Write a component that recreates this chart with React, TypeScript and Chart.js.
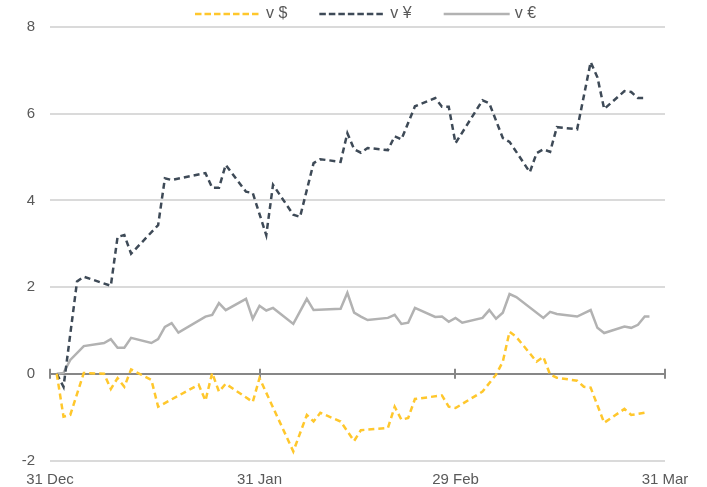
import React, { useEffect, useRef } from "react";
import { Chart, registerables } from "chart.js";

Chart.register(...registerables);

// Axis ticks (x in days since 31 Dec)
const xTickDays = [0, 31, 60, 91];
const xTickLabels = ["31 Dec", "31 Jan", "29 Feb", "31 Mar"];
const yTickValues = [-2, 0, 2, 4, 6, 8];
const seriesNames = ["v $", "v ¥", "v €"];

// v $
const usdDays = [1, 2, 3, 5, 8, 9, 10, 11, 12, 15, 16, 22, 23, 24, 25, 26, 30, 31, 36, 38, 39, 40, 43, 45, 46, 50, 51, 52, 53, 54, 58, 59, 60, 64, 66, 67, 68, 69, 72, 73, 74, 75, 78, 79, 80, 82, 85, 86, 88];
const usdValues = [0, -0.99, -0.95, 0.02, 0, -0.35, -0.1, -0.3, 0.1, -0.14, -0.76, -0.25, -0.62, 0.02, -0.41, -0.23, -0.65, -0.1, -1.79, -0.95, -1.1, -0.9, -1.1, -1.55, -1.3, -1.25, -0.76, -1.06, -1.02, -0.58, -0.5, -0.76, -0.79, -0.41, -0.02, 0.28, 0.97, 0.85, 0.28, 0.39, -0.02, -0.09, -0.16, -0.3, -0.32, -1.13, -0.81, -0.95, -0.9];

// v ¥
const jpyDays = [1, 2, 4, 5, 9, 10, 11, 12, 16, 17, 18, 23, 24, 25, 26, 29, 30, 32, 33, 35, 36, 37, 39, 40, 43, 44, 45, 46, 47, 50, 51, 52, 54, 57, 58, 59, 60, 64, 65, 67, 68, 69, 71, 72, 73, 74, 75, 78, 80, 81, 82, 85, 86, 87, 88];
const jpyValues = [0, -0.3, 2.13, 2.24, 2.03, 3.16, 3.2, 2.77, 3.43, 4.51, 4.47, 4.63, 4.29, 4.29, 4.82, 4.2, 4.17, 3.2, 4.36, 3.9, 3.67, 3.62, 4.86, 4.95, 4.89, 5.55, 5.18, 5.1, 5.21, 5.16, 5.48, 5.41, 6.17, 6.36, 6.16, 6.16, 5.32, 6.31, 6.24, 5.44, 5.35, 5.12, 4.65, 5.09, 5.18, 5.12, 5.69, 5.64, 7.19, 6.84, 6.11, 6.52, 6.5, 6.36, 6.36];

// v €
const eurDays = [1, 2, 3, 5, 8, 9, 10, 11, 12, 15, 16, 17, 18, 19, 23, 24, 25, 26, 29, 30, 31, 32, 33, 36, 38, 39, 43, 44, 45, 46, 47, 50, 51, 52, 53, 54, 57, 58, 59, 60, 61, 64, 65, 66, 67, 68, 69, 73, 74, 75, 78, 80, 81, 82, 85, 86, 87, 88, 88.7];
const eurValues = [0, 0.02, 0.32, 0.64, 0.71, 0.8, 0.6, 0.6, 0.83, 0.71, 0.8, 1.08, 1.17, 0.95, 1.32, 1.36, 1.63, 1.47, 1.73, 1.27, 1.57, 1.46, 1.52, 1.15, 1.73, 1.47, 1.5, 1.87, 1.41, 1.32, 1.24, 1.29, 1.36, 1.15, 1.18, 1.52, 1.31, 1.32, 1.2, 1.29, 1.18, 1.29, 1.47, 1.27, 1.41, 1.84, 1.77, 1.29, 1.43, 1.38, 1.32, 1.47, 1.06, 0.94, 1.09, 1.06, 1.13, 1.32, 1.32];

const FONT = '"Liberation Sans", Arial, sans-serif';
const TEXT_COLOR = "#595959";

function toPoints(days: number[], values: number[]) {
  return days.map((d, i) => ({ x: d, y: values[i] }));
}

export default function App() {
  const canvasRef = useRef<HTMLCanvasElement | null>(null);

  useEffect(() => {
    const canvas = canvasRef.current;
    if (!canvas) return;

    const zeroAxisPlugin = {
      id: "zeroAxisTicks",
      beforeDatasetsDraw(chart: any) {
        const { ctx, scales } = chart;
        const y0 = scales.y.getPixelForValue(0);
        ctx.save();
        ctx.strokeStyle = "#878787";
        ctx.lineWidth = 2;
        ctx.beginPath();
        xTickDays.forEach((d) => {
          const x = Math.round(scales.x.getPixelForValue(d));
          ctx.moveTo(x, y0 - 5);
          ctx.lineTo(x, y0 + 5);
        });
        ctx.stroke();
        ctx.restore();
      },
    };

    const legendPlugin = {
      id: "lineLegend",
      afterDraw(chart: any) {
        const { ctx } = chart;
        ctx.save();
        ctx.font = `16px ${FONT}`;
        ctx.textBaseline = "middle";
        ctx.textAlign = "left";
        let x = 195;
        const y = 14;
        chart.data.datasets.forEach((ds: any) => {
          ctx.strokeStyle = ds.borderColor;
          ctx.lineWidth = 2.5;
          ctx.setLineDash(ds.borderDash ? [6.5, 3] : []);
          ctx.beginPath();
          ctx.moveTo(x, y);
          ctx.lineTo(x + 66, y);
          ctx.stroke();
          ctx.setLineDash([]);
          ctx.fillStyle = TEXT_COLOR;
          ctx.fillText(ds.label, x + 71, y);
          x += 71 + ctx.measureText(ds.label).width + 32;
        });
        ctx.restore();
      },
    };

    const chart = new Chart(canvas, {
      type: "line",
      data: {
        datasets: [
          {
            label: seriesNames[0],
            data: toPoints(usdDays, usdValues),
            borderColor: "#FFC72C",
            borderWidth: 2.5,
            borderDash: [6, 4],
            pointRadius: 0,
            tension: 0,
            fill: false,
          },
          {
            label: seriesNames[1],
            data: toPoints(jpyDays, jpyValues),
            borderColor: "#3E4A57",
            borderWidth: 2.5,
            borderDash: [6, 4],
            pointRadius: 0,
            tension: 0,
            fill: false,
          },
          {
            label: seriesNames[2],
            data: toPoints(eurDays, eurValues),
            borderColor: "#B2B2B2",
            borderWidth: 2.5,
            pointRadius: 0,
            tension: 0,
            fill: false,
          },
        ],
      },
      options: {
        responsive: false,
        animation: false,
        maintainAspectRatio: false,
        layout: { padding: { top: 27, right: 42, left: 0, bottom: 0 } },
        plugins: {
          legend: { display: false },
          tooltip: { enabled: false },
        },
        scales: {
          x: {
            type: "linear",
            min: xTickDays[0],
            max: xTickDays[xTickDays.length - 1],
            afterBuildTicks: (scale: any) => {
              scale.ticks = xTickDays.map((v) => ({ value: v }));
            },
            afterFit: (scale: any) => {
              scale.height = 26.5;
            },
            grid: { display: false, drawTicks: false },
            border: { display: false },
            ticks: {
              padding: 10,
              color: TEXT_COLOR,
              font: { family: FONT, size: 15 },
              maxRotation: 0,
              autoSkip: false,
              callback: (value: any) => {
                const i = xTickDays.indexOf(Number(value));
                return i >= 0 ? xTickLabels[i] : "";
              },
            },
          },
          y: {
            type: "linear",
            min: yTickValues[0],
            max: yTickValues[yTickValues.length - 1],
            afterBuildTicks: (scale: any) => {
              scale.ticks = yTickValues.map((v) => ({ value: v }));
            },
            afterFit: (scale: any) => {
              scale.width = 50;
            },
            grid: {
              drawTicks: false,
              lineWidth: 2,
              color: (ctx: any) => (ctx.tick && ctx.tick.value === 0 ? "#878787" : "#DADADA"),
            },
            border: { display: false },
            ticks: {
              padding: 15,
              color: TEXT_COLOR,
              font: { family: FONT, size: 15 },
              callback: (value: any) => String(value),
            },
          },
        },
      },
      plugins: [zeroAxisPlugin, legendPlugin],
    });

    return () => chart.destroy();
  }, []);

  return (
    <div style={{ position: "fixed", left: 0, top: 0, width: 707, height: 487, background: "#fff" }}>
      <canvas ref={canvasRef} width={707} height={487} style={{ width: 707, height: 487, display: "block" }} />
    </div>
  );
}
